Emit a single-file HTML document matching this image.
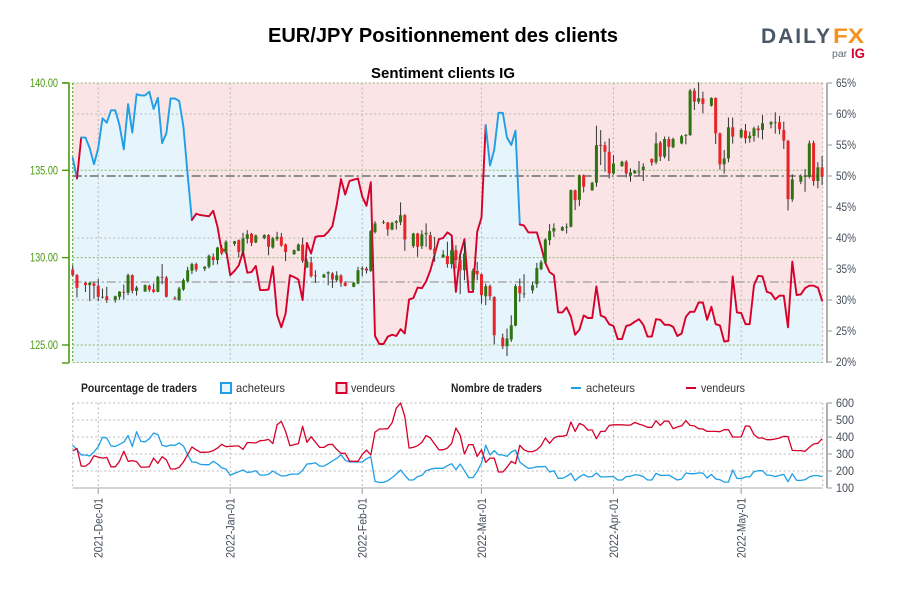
<!DOCTYPE html>
<html lang="fr">
<head>
<meta charset="utf-8">
<title>EUR/JPY Positionnement des clients</title>
<style>
html,body{margin:0;padding:0;background:#fff;}
svg{display:block;font-family:"Liberation Sans",sans-serif;}
</style>
</head>
<body>
<svg id="chart" width="900" height="600" viewBox="0 0 900 600" xmlns="http://www.w3.org/2000/svg">
  <text x="268" y="42" font-size="20" font-weight="bold" fill="#000" textLength="350" lengthAdjust="spacingAndGlyphs">EUR/JPY Positionnement des clients</text>
  <text x="371" y="78" font-size="15" font-weight="bold" fill="#000" textLength="144" lengthAdjust="spacingAndGlyphs">Sentiment clients IG</text>

  <g>
    <text x="761" y="43" font-size="21" font-weight="bold" fill="#4b5766" textLength="69" lengthAdjust="spacing">DAILY</text>
    <text x="833" y="43" font-size="21" font-weight="bold" fill="#f7911e" textLength="31" lengthAdjust="spacingAndGlyphs">FX</text>
    <text x="832" y="57" font-size="10.5" fill="#5d6773">par</text>
    <text x="851" y="58" font-size="14" font-weight="bold" fill="#d6002a" textLength="14" lengthAdjust="spacingAndGlyphs">IG</text>
  </g>

  <g id="upper-bg"></g>
  <g id="upper-grid"></g>
  <g id="upper-line"></g>
  <g id="candles"></g>
  <g id="upper-axes"></g>

  <g font-size="12" fill="#222">
    <text x="81" y="392" font-weight="bold" textLength="116" lengthAdjust="spacingAndGlyphs">Pourcentage de traders</text>
    <rect x="221" y="383" width="10" height="10" fill="#e6f4fc" stroke="#1e9fe6" stroke-width="2"></rect>
    <text x="236" y="392" fill="#333" textLength="49" lengthAdjust="spacingAndGlyphs">acheteurs</text>
    <rect x="336.500" y="383" width="10" height="10" fill="#fbe4e5" stroke="#d6002a" stroke-width="2"></rect>
    <text x="351" y="392" fill="#333" textLength="44" lengthAdjust="spacingAndGlyphs">vendeurs</text>
    <text x="451" y="392" font-weight="bold" textLength="91" lengthAdjust="spacingAndGlyphs">Nombre de traders</text>
    <line x1="571" y1="388" x2="581" y2="388" stroke="#1e9fe6" stroke-width="2"></line>
    <text x="586" y="392" fill="#333" textLength="49" lengthAdjust="spacingAndGlyphs">acheteurs</text>
    <line x1="686" y1="388" x2="696" y2="388" stroke="#d6002a" stroke-width="2"></line>
    <text x="701" y="392" fill="#333" textLength="44" lengthAdjust="spacingAndGlyphs">vendeurs</text>
  </g>

  <g id="lower-grid"></g>
  <g id="lower-lines"></g>
  <g id="lower-axes"></g>
</svg>

<script>
// Day 0 is 2021-11-25; every series below has one value per calendar day.
const startDate = Date.UTC(2021, 10, 25);
const dateTickLabels = ['2021-Dec-01','2022-Jan-01','2022-Feb-01','2022-Mar-01','2022-Apr-01','2022-May-01'];
const priceTicks = [125, 130, 135, 140];
const priceTickLabels = ['125.00','130.00','135.00','140.00'];
const percentTicks = [20,25,30,35,40,45,50,55,60,65];
const percentGridTicks = [30,40,60];
const percentRefLevels = [50, 32.9];
const countTicks = [100,200,300,400,500,600];

const buyerPercent = [
52.9,49.6,56.2,56.2,54.5,51.9,54.5,59.3,58.6,60.6,60.6,58.2,54.3,61.6,57,63.2,63,63,63.6,60.8,62.6,55.3,56.9,62.5,62.5,62.1,58,50.1,42.9,
43.9,43.7,43.6,43.5,44.4,41.8,37.9,38.2,
34.0,34.7,35.6,37.8,34.4,34.5,35.5,31.6,31.6,31.7,35.4,27.6,25.6,27.8,34,33.7,33.3,30,39.2,37.5,40.2,40.3,40.3,41,41.9,45.3,49.5,47,49.2,49.4,49.6,46.7,45.2,49,24.2,22.9,22.9,24.1,24.4,24.2,25.3,24.6,30.1,30.3,32,31.9,33,34.8,
37.3,39.8,40,40.9,40.4,31.3,37.3,39.8,31.3,31.3,41,43.3,58.2,51.7,54.2,60.2,60.2,56.2,55,57.3,42.2,42,40.9,40.9,40.9,38.6,36,34.5,34,28,28,28.8,27.3,24.4,25.2,27.5,27.1,27.1,32.2,27.5,27.2,26.1,25.8,23.7,23.7,25.8,
26,26.5,26.9,26,24.1,24.1,26.9,26.8,26,26,25.7,24.2,24.6,27.3,28.1,28.1,29.6,29.6,26.8,28.9,26.1,25.9,23.3,23.4,33.8,28,27.9,26.1,26.1,32.4,33.9,33.8,31.3,31.1,30.1,30.7,30.7,25.6,36.2,30.8,30.9,31.9,32.3,32.3,32,29.9
];

const buyerCount = [
351,325,294,294,288,312,343,398,394,347,345,357,370,408,345,431,374,372,390,423,414,351,345,353,351,365,347,296,253,251,239,237,237,257,241,218,212,176,186,196,206,192,194,202,176,176,180,200,184,171,171,180,182,182,204,241,243,249,229,229,243,259,274,296,263,253,253,253,253,272,284,139,133,133,143,161,182,206,174,147,147,167,174,202,210,216,216,216,231,243,208,241,
202,161,161,198,247,351,294,320,296,294,286,312,323,253,233,216,218,225,225,227,194,202,157,157,169,186,143,165,180,165,167,188,165,165,167,167,147,147,167,169,178,176,167,147,147,186,174,174,176,161,147,153,188,184,184,188,188,159,180,153,149,135,135,206,157,155,165,165,196,202,202,176,174,167,174,180,137,184,145,145,149,165,173,173,167
];

const sellerCount = [
318,333,229,229,247,290,282,276,280,225,225,257,316,257,261,255,223,223,225,276,245,284,265,212,212,222,253,296,341,325,310,310,312,320,335,357,343,345,347,347,327,367,367,365,378,380,386,361,472,492,433,349,355,361,463,369,402,370,339,339,355,357,327,304,304,259,257,257,296,323,294,429,447,447,449,484,570,600,521,335,339,349,369,408,394,359,325,325,335,363,453,410,
300,355,355,286,325,251,276,276,194,194,222,257,243,351,325,314,314,325,349,394,363,394,404,404,410,488,433,480,468,441,441,390,433,433,468,472,472,472,470,470,486,476,468,457,457,496,468,494,492,449,459,465,496,468,465,449,447,433,433,433,431,443,443,400,400,400,465,463,414,394,394,384,384,388,394,404,402,321,320,320,316,339,359,363,390
];

const candleDays = [
0,1,3,4,5,6,7,8,10,11,12,13,14,15,17,18,19,20,21,22,24,25,26,27,28,29,31,32,33,34,35,36,
38,39,40,41,42,43,45,46,47,48,49,50,52,53,54,55,56,57,59,60,61,62,63,64,66,67,68,69,70,71,73,74,75,76,77,78,80,81,82,83,
84,85,87,88,89,90,91,92,94,95,96,97,98,99,101,102,103,104,105,106,108,109,110,111,112,113,115,116,117,118,119,120,122,123,124,125,126,127,129,130,
131,132,133,134,136,137,138,139,140,141,143,144,145,146,147,148,150,151,152,153,154,155,157,158,159,160,161,162,164,165,166,167,168,169,171,172,173,174,175,176
];
const candleHigh = [
129.57,129.06,128.62,128.62,128.62,128.79,128.23,128.33,127.83,128.08,128.46,129.09,129.04,128.39,128.46,128.46,128.52,128.96,129.63,128.96,127.79,128.33,128.81,129.48,129.71,129.71,129.51,130.18,130.24,130.62,130.72,131.0,
130.96,131.04,131.42,131.57,131.42,131.32,131.34,131.34,131.19,131.48,131.42,130.81,130.47,130.81,131.15,129.95,130.05,129.28,129.09,129.22,129.17,129.22,129.05,128.65,128.61,129.47,129.51,129.47,131.57,132.09,132.15,132.05,132.05,132.15,133.16,132.49,131.42,131.42,131.57,131.96,
131.48,131.19,130.43,130.91,131,130.71,130.24,130.91,129.38,129.76,129.09,128.52,128.46,127.79,125.65,125.94,126.7,128.48,128.8,129.05,128.61,129.7,129.86,131.1,131.92,131.96,131.8,131.96,133.9,133.9,134.76,134.76,134.34,137.55,137.3,136.64,136.83,135.87,135.55,135.58,
135.11,135.02,135.53,135.4,135.68,137.17,136.68,136.93,136.93,136.87,137.02,137.08,139.66,139.7,140.04,139.5,139.18,139.18,137.16,136.16,138.02,138.02,137.4,137.65,137.21,137.5,137.56,138.17,137.82,138.32,138.11,137.79,136.74,134.77,134.77,135.07,136.7,136.7,135.46,135.82
];
const candleLow = [
128.94,127.72,128.04,127.51,127.64,127.51,127.66,127.41,127.43,127.6,127.62,127.85,127.95,127.83,128.04,128.04,127.99,128.02,128.48,127.72,127.57,127.53,128.1,128.58,129.06,129.19,129.23,129.38,129.57,129.61,130.14,130.2,
130.68,130.01,130.14,130.81,130.66,130.83,131.06,130.14,130.52,130.96,130.62,129.8,130.16,130.37,129.7,129.42,128.86,128.56,128.84,128.42,128.27,128.61,128.33,128.36,128.31,128.48,128.94,129.09,129.19,131.38,131.92,131.25,131.57,131.61,131.86,130.39,130.56,130.05,130.5,130.62,
130.43,129.76,129.99,129.43,129.38,129.38,127.91,128.71,128.13,128.71,127.37,127.28,127.56,125.04,124.77,124.37,125.18,126.07,127.47,127.7,127.95,128.27,129.28,129.66,130.71,131.19,131.52,131.38,131.73,132.72,132.95,133.73,133.83,134.06,135.3,134.92,134.53,134.76,135.2,134.59,
134.35,134.79,134.67,134.39,135.26,135.34,135.53,135.68,135.53,136.26,136.49,136.49,136.96,138.45,138.8,138.26,138.65,136.5,135.04,134.81,135.46,136.53,136.83,136.54,136.58,136.64,136.87,136.77,137.4,137.1,137.06,136.22,132.7,133.2,134.21,133.77,134.54,134.12,133.97,134.16
];
const candleOpen = [
129.32,129.0,128.56,128.43,128.52,128.39,127.72,127.79,127.57,127.76,128.04,127.99,129.0,128.1,128.06,128.39,128.18,128.04,128.9,128.86,127.7,127.57,128.18,128.65,129.25,129.63,129.36,129.48,130.05,129.86,130.56,130.28,
130.79,131,130.35,131.08,131.36,130.87,131.11,131.29,130.58,131.06,131.19,130.75,130.2,130.39,130.75,129.43,129.72,128.98,128.86,129.09,129.09,128.71,128.98,128.56,128.33,128.52,129.32,129.38,129.24,131.46,131.99,132.01,131.61,131.99,132.03,132.43,130.66,131.38,130.66,131.34,
131.29,130.52,130.01,130.1,129.63,130.43,129.89,129.28,128.17,129.24,129.05,127.79,128.37,127.75,125.42,124.93,125.31,126.11,128.37,127.91,128.13,128.48,129.34,129.72,131,131.5,131.55,131.73,131.77,133.85,133.31,134.71,133.85,134.29,136.46,136.44,136.06,134.82,135.24,135.49,
134.69,134.83,134.9,135.02,135.65,135.46,136.58,135.78,136.79,136.32,136.54,136.98,137.02,139.56,138.93,139.12,138.7,139.14,137.12,135.34,135.68,137.46,136.89,137.27,136.83,136.96,137.4,137.31,137.63,137.71,137.75,137.31,136.68,133.34,134.35,134.65,134.63,136.56,134.39,135.17
];
const candleClose = [
129.0,128.27,128.43,128.56,128.39,127.76,127.76,127.57,127.79,128.06,127.99,129.0,128.1,128.29,128.43,128.16,128.04,128.9,128.85,127.76,127.64,128.23,128.71,129.28,129.63,129.32,129.48,130.11,129.86,130.58,130.24,130.91,
130.94,130.33,131.1,131.34,130.85,131.27,131.29,130.62,131.1,131.19,130.69,130.33,130.43,130.75,129.82,129.78,128.94,128.94,129.03,129.17,128.75,128.99,128.56,128.38,128.56,129.28,129.4,129.26,131.52,131.96,132.03,131.61,131.99,132.09,132.43,131.04,131.38,130.62,131.34,131.42,
130.47,130.2,130.18,129.63,130.43,129.86,129.28,130.24,129.24,129.05,127.85,128.37,127.79,125.56,124.93,125.37,126.13,128.37,127.95,127.95,128.42,129.4,129.74,131.04,131.52,131.69,131.75,131.77,133.87,133.29,134.71,134.06,134.29,136.44,136.39,136.06,134.82,135.39,135.49,134.82,
134.88,134.98,134.92,135.21,135.44,136.54,135.78,136.79,136.35,136.79,136.95,137.02,139.56,138.93,139.12,138.8,139.14,137.12,135.34,135.68,137.46,136.93,137.31,136.83,136.98,137.4,137.29,137.69,137.75,137.75,137.35,136.7,133.35,134.48,134.67,134.69,136.54,134.39,135.17,134.63
];

const SVG_NS = 'http://www.w3.org/2000/svg';
const plot = {left: 72.7, right: 822.7, top: 83, bottom: 362.5, lowTop: 403, lowBottom: 488};
const COLORS = {blue:'#1e9fe6', red:'#d6002a', blueFill:'#e6f4fc', redFill:'#fbe4e5', green:'#4a9a10',
                gridGreen:'#8fb872', gridGrey:'#b8b8b8', axis:'#a8a8a8', label:'#444e5a',
                candleUp:'#2f7412', candleDown:'#e8242a', wick:'#333333'};

function xOfDay(day){ return plot.left + day * 4.258; }
function yOfPrice(p){ return 345 - (p - 125) * 17.47; }
function yOfPercent(v){ return plot.top + (65 - v) * 6.2; }
function yOfCount(c){ return plot.lowBottom - (c - 100) * 0.17; }
function dayOfLabel(label){
  const months = {Jan:0,Feb:1,Mar:2,Apr:3,May:4,Nov:10,Dec:11};
  const parts = label.split('-');
  return Math.round((Date.UTC(+parts[0], months[parts[1]], +parts[2]) - startDate) / 86400000);
}
function make(tag, parent, attrs, text){
  const el = document.createElementNS(SVG_NS, tag);
  for (const k in attrs) el.setAttribute(k, attrs[k]);
  if (text !== undefined) el.textContent = text;
  parent.appendChild(el);
  return el;
}
function g(id){ return document.getElementById(id); }
function pts(values, xf, yf){ return values.map((v, i) => xf(i).toFixed(1) + ',' + yf(v).toFixed(1)).join(' '); }

/* ---------- upper panel background ---------- */
const upperBg = g('upper-bg');
const pinkBg = make('rect', upperBg, {x:plot.left, y:plot.top, width:plot.right-plot.left, height:plot.bottom-plot.top, fill:COLORS.redFill});


const buyerArea = make('polygon', upperBg, {
  points: pts(buyerPercent, xOfDay, yOfPercent) + ' ' + xOfDay(buyerPercent.length-1).toFixed(1) + ',' + plot.bottom + ' ' + plot.left + ',' + plot.bottom,
  fill: COLORS.blueFill
});



/* ---------- upper panel grid ---------- */
const upperGrid = g('upper-grid');
percentGridTicks.forEach(function(t){
  const l = make('line', upperGrid, {x1:plot.left, x2:plot.right, y1:yOfPercent(t), y2:yOfPercent(t), stroke:COLORS.gridGrey, 'stroke-dasharray':'2 2.5'});
  
  
});
priceTicks.forEach(function(t){
  const l = make('line', upperGrid, {x1:plot.left, x2:plot.right, y1:yOfPrice(t), y2:yOfPrice(t), stroke:COLORS.gridGreen, 'stroke-dasharray':'2 2'});
  
  
});
dateTickLabels.forEach(function(lab){
  const x = xOfDay(dayOfLabel(lab));
  const l = make('line', upperGrid, {x1:x, x2:x, y1:plot.top, y2:plot.bottom, stroke:COLORS.gridGrey, 'stroke-dasharray':'2 2.5'});
  
  
});
percentRefLevels.forEach(function(v, i){
  const l = make('line', upperGrid, {x1:plot.left, x2:plot.right, y1:yOfPercent(v), y2:yOfPercent(v),
    stroke:i===0?'#808080':'#a09a9a', 'stroke-width':i===0?1.8:1.3, 'stroke-dasharray':'9 3 2 3'});
  
  
});
const frameBottom = make('line', upperGrid, {x1:plot.left, x2:plot.right, y1:plot.bottom, y2:plot.bottom, stroke:COLORS.gridGreen, 'stroke-dasharray':'2 2'});


const frameLeft = make('line', upperGrid, {x1:plot.left, x2:plot.left, y1:plot.top, y2:plot.bottom, stroke:COLORS.green, 'stroke-dasharray':'2 2'});


const frameRight = make('line', upperGrid, {x1:plot.right, x2:plot.right, y1:plot.top, y2:plot.bottom, stroke:COLORS.gridGrey, 'stroke-dasharray':'2 2.5'});



/* ---------- sentiment line: each segment takes the colour of its starting point ---------- */
const upperLine = g('upper-line');
let runStart = 0;
for (let i = 1; i <= buyerPercent.length - 1; i++) {
  const isLast = i === buyerPercent.length - 1;
  const changes = !isLast && (buyerPercent[i] >= 50) !== (buyerPercent[runStart] >= 50);
  if (changes || isLast) {
    const p = [];
    for (let j = runStart; j <= i; j++) p.push(xOfDay(j).toFixed(1) + ',' + yOfPercent(buyerPercent[j]).toFixed(1));
    const run = make('polyline', upperLine, {points:p.join(' '), fill:'none',
      stroke: buyerPercent[runStart] >= 50 ? COLORS.blue : COLORS.red,
      'stroke-width':1.9, 'stroke-linejoin':'round', 'stroke-linecap':'round'});
    
    
    runStart = i;
  }
}

/* ---------- candles ---------- */
const candles = g('candles');
candleDays.forEach(function(day, i){
  const x = xOfDay(day);
  const up = candleClose[i] >= candleOpen[i];
  const wick = make('line', candles, {x1:x, x2:x, y1:yOfPrice(candleHigh[i]), y2:yOfPrice(candleLow[i]), stroke:COLORS.wick, 'stroke-width':1});
  
  
  const yTop = yOfPrice(Math.max(candleOpen[i], candleClose[i]));
  const yBot = yOfPrice(Math.min(candleOpen[i], candleClose[i]));
  const body = make('rect', candles, {x:x-1.5, y:yTop, width:3, height:Math.max(yBot-yTop, 0.8), fill: up ? COLORS.candleUp : COLORS.candleDown});
  
  
});

/* ---------- upper axes ---------- */
const upperAxes = g('upper-axes');
const priceAxis = make('line', upperAxes, {x1:69, x2:69, y1:82.5, y2:363, stroke:COLORS.green, 'stroke-width':1.6});


[plot.top, plot.bottom + 0.5].forEach(function(y){
  const cap = make('line', upperAxes, {x1:62, x2:69, y1:y, y2:y, stroke:COLORS.green, 'stroke-width':1.4});
  
  
});
priceTicks.forEach(function(t, i){
  const y = yOfPrice(t);
  const tick = make('line', upperAxes, {x1:62, x2:69, y1:y, y2:y, stroke:COLORS.green, 'stroke-width':1.4});
  
  
  const lab = make('text', upperAxes, {x:30, y:y+4, 'font-size':12, fill:COLORS.green, textLength:28, lengthAdjust:'spacingAndGlyphs'}, priceTickLabels[i]);
  
  
});
const percentAxis = make('line', upperAxes, {x1:827, x2:827, y1:plot.top, y2:plot.bottom+0.5, stroke:COLORS.axis, 'stroke-width':1.8});


percentTicks.forEach(function(t){
  const y = yOfPercent(t);
  const tick = make('line', upperAxes, {x1:827, x2:832, y1:y, y2:y, stroke:COLORS.axis, 'stroke-width':1.2});
  
  
  const lab = make('text', upperAxes, {x:836, y:y+4, 'font-size':12, fill:COLORS.label, textLength:20, lengthAdjust:'spacingAndGlyphs'}, t + '%');
  
  
});

/* ---------- lower panel ---------- */
const lowerGrid = g('lower-grid');
countTicks.forEach(function(t){
  const y = yOfCount(t);
  const l = make('line', lowerGrid, {x1:plot.left, x2:plot.right, y1:y, y2:y,
    stroke: t === 100 ? COLORS.axis : COLORS.gridGrey, 'stroke-dasharray': t === 100 ? 'none' : '2 2.5'});
  
  
});
[plot.left, plot.right].forEach(function(x){
  const l = make('line', lowerGrid, {x1:x, x2:x, y1:plot.lowTop, y2:plot.lowBottom, stroke:COLORS.gridGrey, 'stroke-dasharray':'2 2.5'});
  
  
});
dateTickLabels.forEach(function(lab){
  const x = xOfDay(dayOfLabel(lab));
  const l = make('line', lowerGrid, {x1:x, x2:x, y1:plot.lowTop, y2:plot.lowBottom, stroke:COLORS.gridGrey, 'stroke-dasharray':'2 2.5'});
  
  
});

const lowerLines = g('lower-lines');
const buyersLine = make('polyline', lowerLines, {points:pts(buyerCount, xOfDay, yOfCount), fill:'none', stroke:COLORS.blue, 'stroke-width':1.3, 'stroke-linejoin':'round'});


const sellersLine = make('polyline', lowerLines, {points:pts(sellerCount, xOfDay, yOfCount), fill:'none', stroke:COLORS.red, 'stroke-width':1.3, 'stroke-linejoin':'round'});



const lowerAxes = g('lower-axes');
const countAxis = make('line', lowerAxes, {x1:827, x2:827, y1:plot.lowTop, y2:plot.lowBottom, stroke:COLORS.axis, 'stroke-width':1.8});


countTicks.forEach(function(t){
  const y = yOfCount(t);
  const tick = make('line', lowerAxes, {x1:827, x2:832, y1:y, y2:y, stroke:COLORS.axis, 'stroke-width':1.2});
  
  
  const lab = make('text', lowerAxes, {x:836, y:y+4, 'font-size':12, fill:COLORS.label, textLength:18, lengthAdjust:'spacingAndGlyphs'}, String(t));
  
  
});
dateTickLabels.forEach(function(text){
  const x = xOfDay(dayOfLabel(text));
  const tick = make('line', lowerAxes, {x1:x, x2:x, y1:plot.lowBottom, y2:494, stroke:COLORS.axis, 'stroke-width':1.2});
  
  
  const lab = make('text', lowerAxes, {x:0, y:0, 'font-size':12, fill:COLORS.label, 'text-anchor':'start', textLength:60, lengthAdjust:'spacingAndGlyphs',
    transform:'translate(' + (x + 4.5).toFixed(1) + ',558) rotate(-90)'}, text);
  
  
});
</script>
</body>
</html>
